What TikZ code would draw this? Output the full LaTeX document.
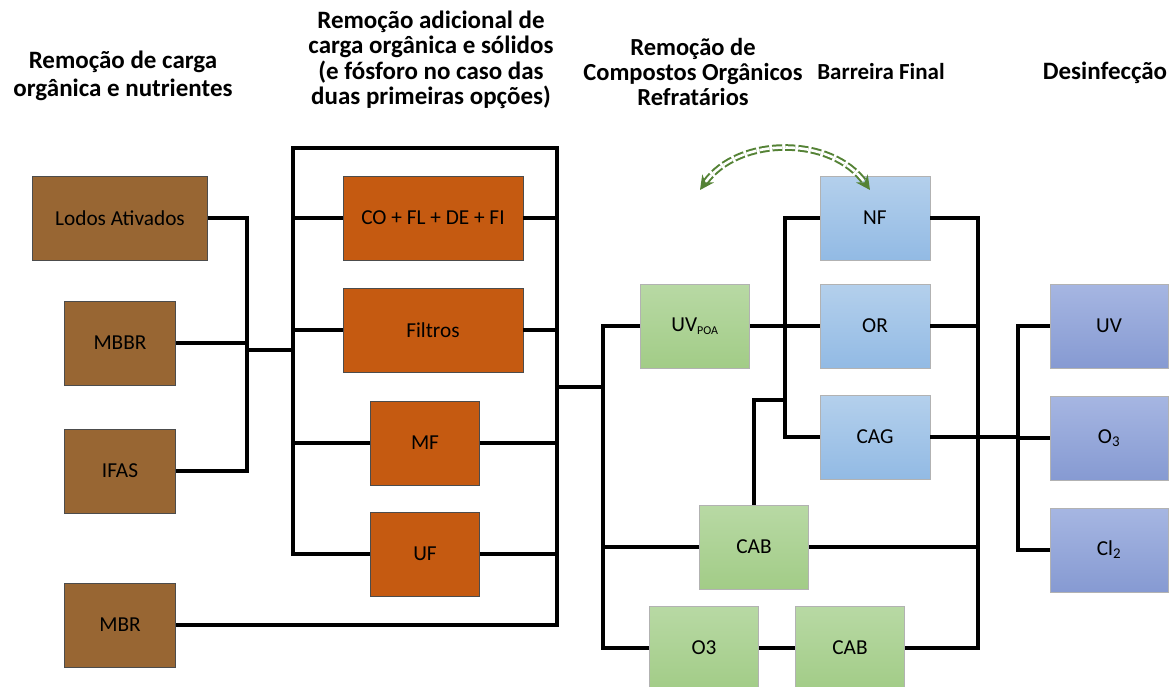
\documentclass[tikz,border=0pt]{standalone}
\usepackage{fontspec}
\setmainfont{Carlito}
\usepackage{tikz}
\usetikzlibrary{arrows.meta, positioning}

\definecolor{lodo}{RGB}{152,102,51}
\definecolor{laranja}{RGB}{197,90,17}
\definecolor{verdeA}{RGB}{184,217,164}
\definecolor{verdeB}{RGB}{162,204,135}
\definecolor{azulA}{RGB}{180,208,236}
\definecolor{azulB}{RGB}{146,186,228}
\definecolor{roxoA}{RGB}{166,182,226}
\definecolor{roxoB}{RGB}{134,154,210}
\definecolor{seta}{RGB}{84,130,53}

\begin{document}
\begin{tikzpicture}[x=1pt, y=-1pt, line width=3.2pt, align=center,
  box/.style={rectangle, draw=black!70, line width=0.8pt, minimum height=84pt, inner sep=0pt, font=\fontsize{21.3}{24}\selectfont},
  marrom/.style={box, fill=lodo, minimum width=111pt},
  laranjabox/.style={box, fill=laranja, minimum width=109pt},
  verde/.style={box, draw=black!30, top color=verdeA, bottom color=verdeB, minimum width=109pt},
  azul/.style={box, draw=black!30, top color=azulA, bottom color=azulB, minimum width=110pt},
  roxo/.style={box, draw=black!30, top color=roxoA, bottom color=roxoB, minimum width=118pt},
  titulo/.style={font=\bfseries\fontsize{25}{25.5}\selectfont}]
  \useasboundingbox (0,0) rectangle (1171,686);

  % titulos
  \node[titulo, font=\bfseries\fontsize{25}{28}\selectfont] (t1) at (123,76) {Remoção de carga\\orgânica e nutrientes};
  \node[titulo] (t2) at (431,60)  {Remoção adicional de\\carga orgânica e sólidos\\(e fósforo no caso das\\duas primeiras opções)};
  \node[titulo, font=\bfseries\fontsize{24.5}{25}\selectfont] (t3) at (693,72) {Remoção de\\Compostos Orgânicos\\Refratários};
  \node[titulo, font=\bfseries\fontsize{23}{25}\selectfont] (t4) at (881,72) {Barreira Final};
  \node[titulo] (t5) at (1105,73) {Desinfecção};

  % remocao de carga organica
  \node[marrom, minimum width=175pt] (lodos) at (120,218) {Lodos Ativados};
  \node[marrom] (mbbr) at (120,343) {MBBR};
  \node[marrom] (ifas) at (120,471) {IFAS};
  \node[marrom] (mbr)  at (120,625) {MBR};

  % remocao adicional
  \node[laranjabox, minimum width=180pt] (cofl)    at (433,218) {CO + FL + DE + FI};
  \node[laranjabox, minimum width=180pt] (filtros) at (433,330) {Filtros};
  \node[laranjabox] (mf) at (425,443) {MF};
  \node[laranjabox] (uf) at (425,554) {UF};

  % compostos refratarios
  \node[verde] (uvpoa) at (695,326) {UV\textsubscript{\fontsize{12}{13}\selectfont POA}};
  \node[verde] (cabA)  at (754,547) {CAB};
  \node[verde] (ozv)   at (704,648) {O3};
  \node[verde] (cabB)  at (850,648) {CAB};

  % barreira final
  \node[azul] (nf)  at (875,218) {NF};
  \node[azul] (or)  at (875,326) {OR};
  \node[azul] (cag) at (875,437) {CAG};

  % desinfeccao
  \node[roxo] (uv) at (1109,326) {UV};
  \node[roxo] (oz) at (1109,438) {O\textsubscript{3}};
  \node[roxo] (cl) at (1109,550) {Cl\textsubscript{2}};

  % pontos de juncao
  \coordinate (jA) at (247,343);
  \coordinate (jB) at (247,350);
  \coordinate (jC) at (293,350);
  \coordinate (tl) at (293,148);
  \coordinate (tr) at (557,148);
  \coordinate (kA) at (557,387);
  \coordinate (kB) at (603,387);
  \coordinate (dA) at (785,300);
  \coordinate (dB) at (785,400);
  \coordinate (eA) at (978,300);
  \coordinate (fA) at (1018,437);
  \coordinate (arrL) at (700,190);
  \coordinate (arrR) at (870,190);

  \draw (lodos.east) -| (jA) |- (ifas.east);
  \draw (mbbr.east) -- (jA);
  \draw (jB) -- (jC);
  \draw (uf.west) -| (tl) -- (tr) |- (mbr.east);
  \draw (cofl.west) -- (cofl.west -| tl);
  \draw (filtros.west) -- (filtros.west -| tl);
  \draw (mf.west) -- (mf.west -| tl);
  \draw (cofl.east) -- (cofl.east -| tr);
  \draw (filtros.east) -- (filtros.east -| tr);
  \draw (mf.east) -- (mf.east -| tr);
  \draw (uf.east) -- (uf.east -| tr);

  \draw (kA) -- (kB);
  \draw (uvpoa.west) -| (kB) |- (ozv.west);
  \draw (cabA.west) -- (cabA.west -| kB);
  \draw (ozv) -- (cabB);
  \draw (uvpoa.east) -- (or.west);
  \draw (nf.west) -| (dA) |- (cag.west);
  \draw (cabA.north) |- (dB);
  \draw (nf.east) -| (eA) |- (cabB.east);
  \draw (or.east) -- (or.east -| eA);
  \draw (cabA.east) -- (cabA.east -| eA);
  \draw (cag.east) -- (fA);
  \draw (uv.west) -| (fA) |- (cl.west);
  \draw (oz.west) -- (oz.west -| fA);

  \draw[seta, line width=2pt, double=white, double distance=2.6pt, dash pattern=on 10pt off 3pt,
        {Stealth[length=14pt, width=14pt]}-{Stealth[length=14pt, width=14pt]}]
        (arrL) to[bend left=55] (arrR);
\end{tikzpicture}
\end{document}
